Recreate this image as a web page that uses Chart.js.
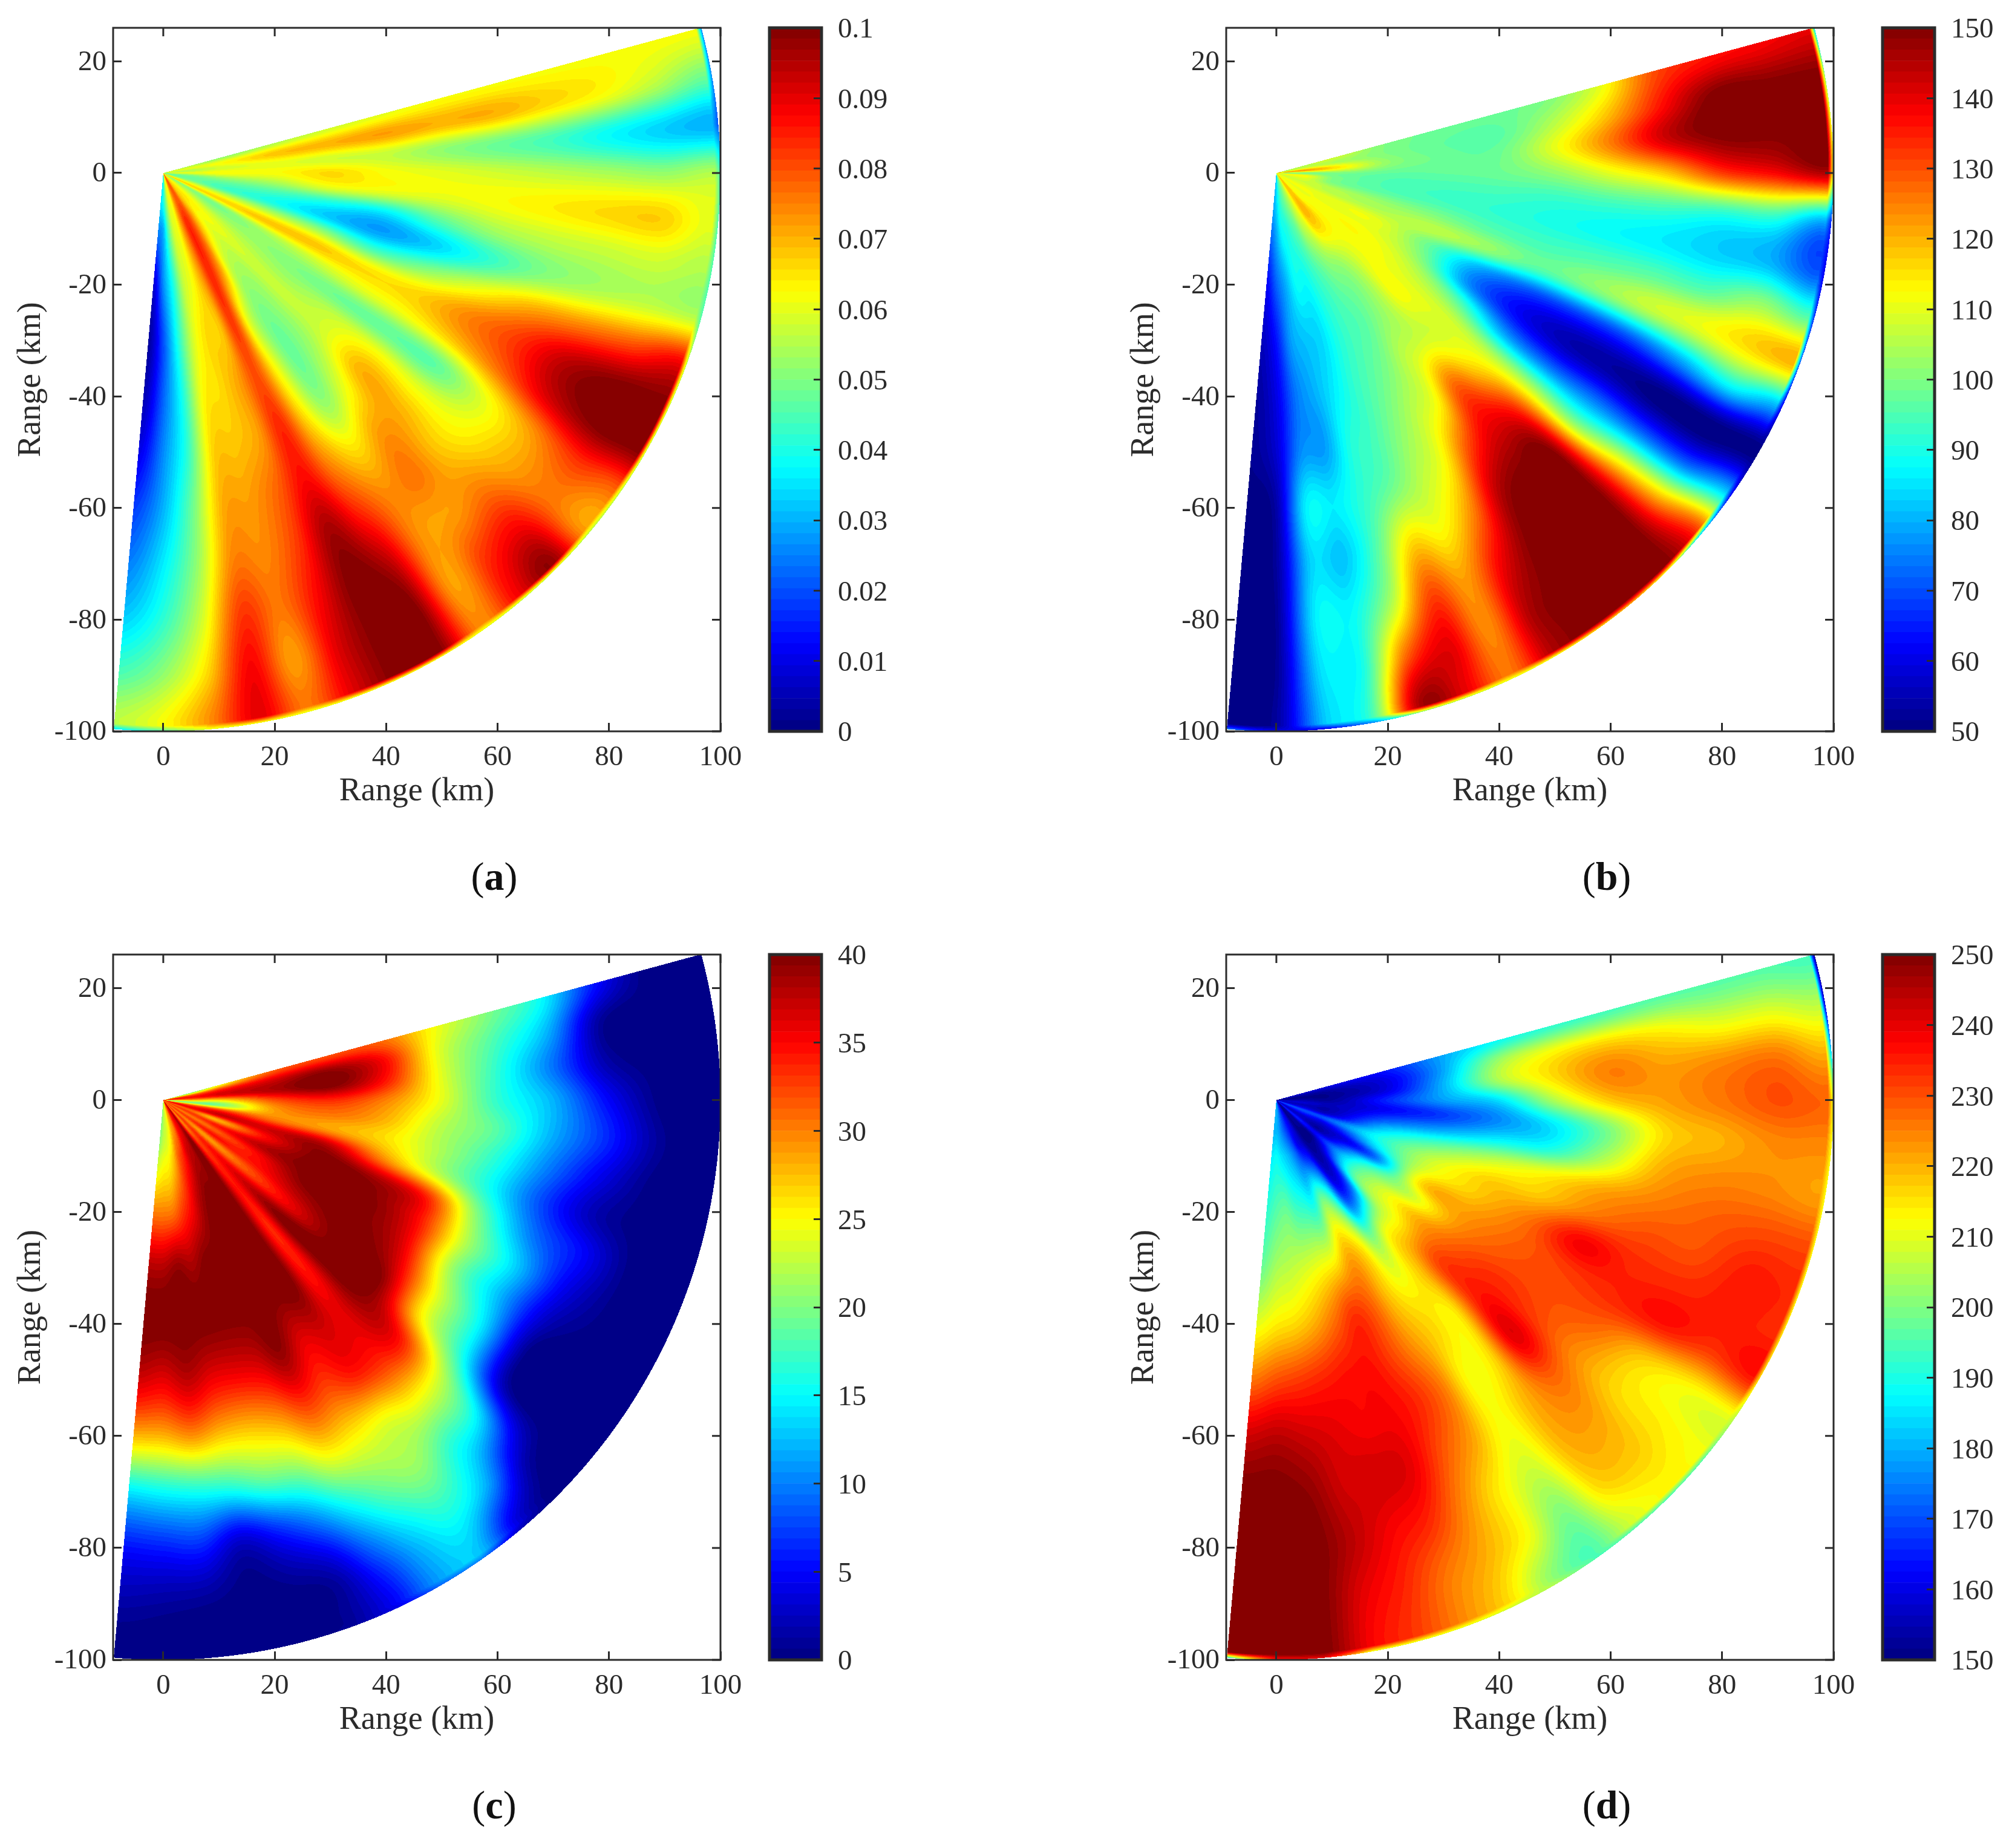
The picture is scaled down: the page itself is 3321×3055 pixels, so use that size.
<!DOCTYPE html>
<html>
<head>
<meta charset="utf-8">
<script src="https://cdn.jsdelivr.net/npm/chart.js@4/dist/chart.umd.js"></script>
<style>
  html, body { margin: 0; background: #fff; }
  #page { position: relative; width: 3321px; height: 3055px; overflow: hidden; }
  canvas { position: absolute; }
  .cap { position: absolute; font: 66px "Liberation Serif"; color: #111; transform: translate(-50%, -50%); }
</style>
</head>
<body>
<div id="page"></div>
<script>
// beam azimuth (deg) and range gates (km) of the sector
var azimuths = [15, 10, 5, 0, -5, -10, -15, -20, -25, -30, -35, -40, -45, -50, -55, -60, -65, -70, -75, -80, -85, -90, -95];
var ranges = [5, 10, 20, 30, 40, 50, 60, 70, 80, 90, 98];
var xTicks = [0, 20, 40, 60, 80, 100];
var yTicks = [-100, -80, -60, -40, -20, 0, 20];
var xLabel = 'Range (km)';
var yLabel = 'Range (km)';

var barTicksA = [0, 0.01, 0.02, 0.03, 0.04, 0.05, 0.06, 0.07, 0.08, 0.09, 0.1];
var barTicksB = [50, 60, 70, 80, 90, 100, 110, 120, 130, 140, 150];
var barTicksC = [0, 5, 10, 15, 20, 25, 30, 35, 40];
var barTicksD = [150, 160, 170, 180, 190, 200, 210, 220, 230, 240, 250];

// one row per azimuth, one column per range gate
var fieldA = [
  [.055,.052,.055,.058,.060,.062,.062,.062,.062,.062,.062],
  [.060,.062,.068,.070,.072,.070,.070,.066,.062,.055,.048],
  [.055,.058,.060,.058,.057,.052,.048,.044,.038,.033,.030],
  [.060,.062,.062,.066,.062,.060,.058,.056,.054,.052,.055],
  [.050,.052,.054,.060,.060,.060,.062,.064,.066,.067,.060],
  [.048,.046,.044,.040,.036,.045,.053,.056,.057,.058,.055],
  [.050,.045,.040,.033,.028,.033,.042,.050,.054,.056,.055],
  [.060,.058,.055,.052,.044,.050,.060,.070,.075,.080,.088],
  [.066,.066,.068,.068,.065,.066,.074,.082,.094,.100,.100],
  [.052,.050,.054,.057,.060,.062,.068,.078,.092,.100,.100],
  [.055,.052,.052,.050,.048,.047,.047,.060,.072,.082,.078],
  [.060,.058,.055,.053,.057,.062,.060,.062,.070,.076,.072],
  [.064,.062,.058,.057,.058,.070,.070,.068,.075,.088,.098],
  [.066,.062,.055,.052,.052,.060,.072,.076,.072,.083,.088],
  [.070,.070,.058,.050,.048,.052,.065,.074,.074,.072,.074],
  [.078,.080,.074,.060,.062,.066,.074,.084,.094,.100,.100],
  [.078,.084,.084,.082,.080,.084,.087,.096,.100,.100,.100],
  [.072,.074,.072,.068,.072,.072,.078,.082,.087,.090,.090],
  [.062,.062,.062,.066,.066,.068,.072,.074,.076,.072,.076],
  [.060,.058,.056,.058,.062,.066,.070,.074,.082,.088,.090],
  [.050,.046,.040,.040,.040,.042,.048,.052,.058,.066,.074],
  [.040,.030,.026,.020,.022,.026,.030,.036,.042,.052,.062],
  [.035,.026,.008,.003,.005,.010,.018,.025,.033,.045,.056]
];
var rimA = [.025,.025,.020,.045,.045,.045,.045,.055,.055,.055,.055,.055,.055,.055,.060,.060,.060,.060,.060,.060,.060,.045,.035];

var fieldB = [
  [105,108,100,98,98,100,110,130,136,138,140],
  [108,105,100,97,96,105,118,136,150,150,150],
  [122,116,102,98,98,110,125,142,150,150,150],
  [100,100,97,97,98,102,110,118,132,138,145],
  [112,100,95,94,94,93,94,94,92,92,80],
  [110,100,96,94,92,90,88,86,83,80,70],
  [108,105,102,100,96,94,95,96,95,102,95],
  [108,106,105,106,102,96,100,106,110,116,120],
  [110,110,110,98,80,70,68,70,78,88,80],
  [112,110,110,100,76,62,55,53,50,50,50],
  [110,112,112,106,95,78,72,72,70,70,80],
  [112,112,112,110,108,105,105,102,112,118,130],
  [112,114,110,112,108,118,135,148,150,150,150],
  [118,118,106,105,108,128,140,150,150,150,150],
  [118,118,102,100,106,112,130,145,150,150,150],
  [112,110,100,96,100,106,112,124,138,145,145],
  [106,105,96,94,96,100,105,112,122,124,126],
  [102,98,92,90,92,94,98,115,130,140,140],
  [98,94,88,84,86,90,92,96,105,128,145],
  [95,90,88,82,80,78,86,82,88,90,94],
  [90,88,80,78,74,76,86,83,86,84,82],
  [84,80,72,64,60,58,54,53,52,52,53],
  [80,74,62,56,53,52,50,50,50,50,50]
];
var rimB = [85,100,110,110,65,60,65,70,60,50,60,80,110,120,115,110,110,105,100,75,60,60,75];

var fieldC = [
  [20,24.8,31.2,32,31.2,24.8,20,15.2,5.6,0,0],
  [31.2,34,36.8,39.2,35.2,24,18,12,0.8,0,0],
  [34.4,36,38,40,34.4,24,16.8,9.6,1.6,0,0],
  [28,26.4,32,33.6,30,24,16.8,12,4.8,0,0],
  [20,20,28.8,30.4,28,22.4,18.4,12,6.4,0.8,0],
  [31.2,32.8,30.4,28.8,26.4,22,16.8,10,4,0,0],
  [35.2,36.8,36.8,37.6,30.4,23.2,16,8,2,0,0],
  [31.2,28,35.2,40,38.4,34,20,10,5,0,0],
  [32.8,34,38,40,40,35.2,22,13,4,0,0],
  [30.4,31.2,35.2,40,40,36,21,12,2,0,0],
  [32.8,34.4,34.4,38,40,37.6,24,14,0,0,0],
  [30,28.8,32,36,40,40,26,16,2,0,0],
  [32.8,34,36.8,40,40,39.2,34.4,23,14,3.2,0],
  [30,32.8,34.4,33.6,34.4,36,34,25,16.8,12,4],
  [38,40,40,40,40,36.8,34,24,20.8,16,12.8],
  [36,38,40,40,40,36,32,24.8,19.2,13.2,11.2],
  [34,36.8,40,40,40,39.2,32.8,24.8,15.2,8,5],
  [30,33.6,38.4,40,40,36.8,29.6,20.8,10,2,1],
  [28,31.2,35.2,40,40,36,28,19.2,6,0.5,0],
  [24.8,27.2,32.8,38.4,40,36,28,16.8,3,0,0],
  [23.2,24.8,30.4,39.2,40,37.6,29.6,16,6.4,0.8,0],
  [22,24,30,38,40,36,28,15.2,6,1.2,0],
  [20,22.4,30,38,40,36.8,28,14.4,5.6,1.6,0]
];
var rimC = [0,0,0,0,0,0,0,0,0,0,0,0,0,2,10,9,4,1,0,0,0,0,0];

var fieldD = [
  [158,160,164,178,188,192,194,196,196,196,194],
  [153,154,160,178,202,212,216,214,210,210,206],
  [151,152,160,180,204,216,225,222,224,226,220],
  [154,153,166,178,185,205,218,222,226,230,228],
  [158,156,162,168,176,186,200,216,220,224,224],
  [156,155,170,178,186,190,205,220,224,224,222],
  [160,158,182,195,205,212,220,225,228,230,230],
  [170,172,190,206,216,218,226,230,230,235,234],
  [165,162,185,210,218,226,238,234,234,235,234],
  [158,156,172,216,222,228,232,234,236,232,236],
  [158,155,190,208,224,230,230,228,218,212,210],
  [165,164,198,216,228,234,232,224,216,214,212],
  [154,155,196,212,230,234,240,228,222,218,213],
  [152,152,170,210,218,214,216,220,220,216,208],
  [152,153,165,200,212,216,212,212,208,200,195],
  [158,160,190,214,218,222,226,222,214,212,202],
  [162,164,200,220,228,230,234,230,224,220,216],
  [166,172,190,212,232,236,238,240,234,226,224],
  [170,178,192,210,226,236,238,242,238,234,232],
  [174,182,194,208,220,234,240,242,244,240,238],
  [178,185,198,206,216,232,242,248,250,250,250],
  [180,188,196,204,214,230,244,250,250,250,250],
  [180,186,192,198,210,226,242,250,250,250,250]
];
var rimD = [150,155,180,210,212,212,212,212,214,215,205,195,195,195,195,205,208,210,210,210,240,235,190];

var levels = 64;
var font = 'Liberation Serif';
var inkColor = '#2b2b2b';
var axisBand = 132;

var panels = [
  { id: 'a', left: 0, top: 46, bottom: 1209, field: fieldA, rim: rimA, barTicks: barTicksA, capX: 817, capY: 1449 },
  { id: 'b', left: 1840, top: 46, bottom: 1209, field: fieldB, rim: rimB, barTicks: barTicksB, capX: 2656, capY: 1449 },
  { id: 'c', left: 0, top: 1578, bottom: 2744, field: fieldC, rim: rimC, barTicks: barTicksC, capX: 817, capY: 2984 },
  { id: 'd', left: 1840, top: 1578, bottom: 2744, field: fieldD, rim: rimD, barTicks: barTicksD, capX: 2656, capY: 2984 }
];

function jet(t) {
  function ch(c) { return Math.round(255 * Math.max(0, Math.min(1, 1.5 - Math.abs(4 * t - c)))); }
  return [ch(3), ch(2), ch(1)];
}
var jetTable = [];
for (var i = 0; i < levels; i++) jetTable.push(jet((i + 0.5) / levels));

function cr(p0, p1, p2, p3, u) {
  return p1 + 0.5 * u * (p2 - p0 + u * (2 * p0 - 5 * p1 + 4 * p2 - p3 + u * (3 * (p1 - p2) + p3 - p0)));
}

// colour shading between the gates, like shading interp in the original plot
function lookup(field, rim, r, az) {
  var na = azimuths.length, nr = ranges.length;
  var fa = (azimuths[0] - az) / 5;
  fa = Math.max(0, Math.min(na - 1, fa));
  var ia = Math.min(na - 2, Math.floor(fa)), ua = fa - ia;
  var rr = Math.max(ranges[0], Math.min(ranges[nr - 1], r));
  var ir = 0;
  while (ir < nr - 2 && rr > ranges[ir + 1]) ir++;
  var ur = (rr - ranges[ir]) / (ranges[ir + 1] - ranges[ir]);
  var col = [];
  for (var k = -1; k <= 2; k++) {
    var row = field[Math.max(0, Math.min(na - 1, ia + k))];
    col.push(cr(row[Math.max(0, ir - 1)], row[ir], row[ir + 1], row[Math.min(nr - 1, ir + 2)], ur));
  }
  var v = cr(col[0], col[1], col[2], col[3], ua);
  if (r > 99) {
    var edge = rim[ia] + (rim[ia + 1] - rim[ia]) * ua;
    v += (edge - v) * (r - 99);
  }
  return v;
}

var sectorPlugin = {
  id: 'sector',
  beforeDatasetsDraw: function (chart) {
    var p = chart.options.plugins.sector;
    var a = chart.chartArea, xs = chart.scales.x, ys = chart.scales.y;
    var w = Math.round(a.right - a.left), h = Math.round(a.bottom - a.top);
    var off = document.createElement('canvas');
    off.width = w; off.height = h;
    var octx = off.getContext('2d');
    var img = octx.createImageData(w, h);
    var lo = p.barTicks[0], hi = p.barTicks[p.barTicks.length - 1];
    var xv = [], yv = [];
    for (var i = 0; i < w; i++) xv.push(xs.getValueForPixel(a.left + i + 0.5));
    for (var j = 0; j < h; j++) yv.push(ys.getValueForPixel(a.top + j + 0.5));
    for (j = 0; j < h; j++) {
      for (i = 0; i < w; i++) {
        var r = Math.hypot(xv[i], yv[j]);
        var az = Math.atan2(yv[j], xv[i]) * 180 / Math.PI;
        if (r > 100 || az > 15.1 || az < -95.1) continue;
        var v = lookup(p.field, p.rim, r, az);
        var idx = Math.max(0, Math.min(levels - 1, Math.floor((v - lo) / (hi - lo) * levels)));
        var c = jetTable[idx], o = (j * w + i) * 4;
        img.data[o] = c[0]; img.data[o + 1] = c[1]; img.data[o + 2] = c[2]; img.data[o + 3] = 255;
      }
    }
    octx.putImageData(img, 0, 0);
    chart.ctx.drawImage(off, a.left, a.top);
  }
};

var framePlugin = {
  id: 'frame',
  afterDraw: function (chart) {
    var o = chart.options.plugins.frame;
    var a = chart.chartArea, ctx = chart.ctx;
    ctx.save();
    ctx.strokeStyle = inkColor;
    ctx.lineWidth = o.width;
    ctx.strokeRect(a.left, a.top, a.right - a.left, a.bottom - a.top);
    if (o.mirror) {
      // top and right ticks, MATLAB box style
      ctx.lineWidth = 3;
      ctx.beginPath();
      xTicks.forEach(function (t) {
        var px = chart.scales.x.getPixelForValue(t);
        ctx.moveTo(px, a.top); ctx.lineTo(px, a.top + 14);
      });
      yTicks.forEach(function (t) {
        var py = chart.scales.y.getPixelForValue(t);
        ctx.moveTo(a.right, py); ctx.lineTo(a.right - 14, py);
      });
      ctx.stroke();
    }
    ctx.restore();
  }
};

function fixedTicks(list) {
  return function (scale) { scale.ticks = list.map(function (v) { return { value: v }; }); };
}

// keep the plot box where it belongs, whatever the tick labels ask for
function fitBox(width, height) {
  return function (s) {
    if (width) s.width = width;
    if (height) s.height = height;
    s.paddingTop = s.paddingBottom = s.paddingLeft = s.paddingRight = 0;
  };
}

function addCanvas(left, top, w, h) {
  var c = document.createElement('canvas');
  c.width = w; c.height = h;
  c.style.left = left + 'px'; c.style.top = top + 'px';
  c.style.width = w + 'px'; c.style.height = h + 'px';
  document.getElementById('page').appendChild(c);
  return c;
}

panels.forEach(function (p) {
  var canvasTop = p.top - 46;
  var height = 46 + (p.bottom - p.top) + axisBand;

  var points = [];
  p.field.forEach(function (row, ia) {
    row.forEach(function (v, ir) {
      var t = azimuths[ia] * Math.PI / 180;
      points.push({ x: ranges[ir] * Math.cos(t), y: ranges[ir] * Math.sin(t), v: v });
    });
  });

  new Chart(addCanvas(p.left, canvasTop, 1260, height), {
    type: 'scatter',
    data: { datasets: [{ data: points, pointRadius: 0 }] },
    plugins: [sectorPlugin, framePlugin],
    options: {
      responsive: false,
      animation: false,
      layout: { autoPadding: false, padding: { left: 19, top: 46, right: 69, bottom: 0 } },
      plugins: {
        legend: { display: false },
        tooltip: { enabled: false },
        sector: { field: p.field, rim: p.rim, barTicks: p.barTicks },
        frame: { width: 3, mirror: true }
      },
      scales: {
        x: {
          type: 'linear', min: -9, max: 100,
          afterBuildTicks: fixedTicks(xTicks),
          afterFit: fitBox(0, axisBand),
          grid: { drawOnChartArea: false, tickLength: -14, tickWidth: 3, tickColor: inkColor, z: 1 },
          border: { display: false },
          ticks: { font: { family: font, size: 47 }, color: inkColor, padding: 29, maxRotation: 0, autoSkip: false,
                   callback: function (v) { return String(v); } },
          title: { display: true, text: xLabel, font: { family: font, size: 54 }, color: inkColor, padding: 0 }
        },
        y: {
          type: 'linear', min: -100, max: 26,
          afterBuildTicks: fixedTicks(yTicks),
          afterFit: fitBox(168, 0),
          grid: { drawOnChartArea: false, tickLength: -14, tickWidth: 3, tickColor: inkColor, z: 1 },
          border: { display: false },
          ticks: { font: { family: font, size: 47 }, color: inkColor, padding: 25, autoSkip: false, labelOffset: 2,
                   callback: function (v) { return String(v); } },
          title: { display: true, text: yLabel, font: { family: font, size: 54 }, color: inkColor, padding: 0 }
        }
      }
    }
  });

  // colour bar, one floating bar per colour level
  var lo = p.barTicks[0], hi = p.barTicks[p.barTicks.length - 1];
  var step = (hi - lo) / levels;
  var bands = jetTable.map(function (c, k) {
    return { data: [[lo + k * step, lo + (k + 1) * step]], backgroundColor: 'rgb(' + c.join(',') + ')', borderWidth: 0 };
  });
  new Chart(addCanvas(p.left + 1260, canvasTop, 221, height), {
    type: 'bar',
    data: { labels: [''], datasets: bands },
    plugins: [framePlugin],
    options: {
      responsive: false,
      animation: false,
      datasets: { bar: { barPercentage: 1, categoryPercentage: 1, grouped: false } },
      layout: { autoPadding: false, padding: { left: 12, top: 46, right: 0, bottom: axisBand } },
      plugins: {
        legend: { display: false },
        tooltip: { enabled: false },
        frame: { width: 5, mirror: false }
      },
      scales: {
        x: { display: false },
        y: {
          type: 'linear', position: 'right', min: lo, max: hi,
          afterBuildTicks: fixedTicks(p.barTicks),
          afterFit: fitBox(123, 0),
          grid: { drawOnChartArea: false, tickLength: -13, tickWidth: 3, tickColor: inkColor, z: 1 },
          border: { display: false },
          ticks: { font: { family: font, size: 47 }, color: inkColor, padding: 40, autoSkip: false, labelOffset: 4,
                   callback: function (v) { return String(v); } }
        }
      }
    }
  });

  var cap = document.createElement('div');
  cap.className = 'cap';
  cap.style.left = p.capX + 'px';
  cap.style.top = p.capY + 'px';
  cap.innerHTML = '(<b>' + p.id + '</b>)';
  document.getElementById('page').appendChild(cap);
});
</script>
</body>
</html>
